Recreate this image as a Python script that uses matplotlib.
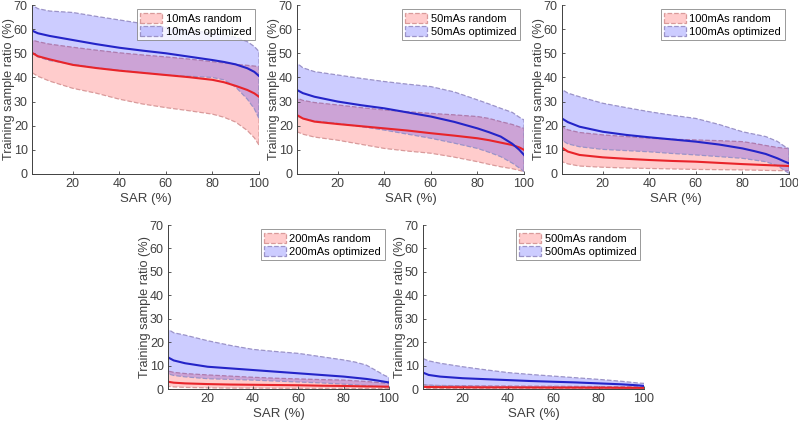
import matplotlib
matplotlib.use("Agg")
import matplotlib.pyplot as plt
from matplotlib.patches import Patch

plt.rcParams['font.family'] = ['Liberation Sans', 'DejaVu Sans']

sar = [2.5, 5, 10, 20, 30, 40, 50, 60, 70, 80, 85, 90, 95, 98, 100]

# 10 mAs
rand_10_mean = [50.2, 48.8, 47.5, 45.2, 43.9, 42.8, 41.9, 41.0, 40.1, 39.0, 38.0, 36.5, 34.8, 33.4, 32.0]
rand_10_up = [55.5, 54.8, 53.8, 52.5, 51.3, 50.2, 49.3, 48.5, 47.6, 46.5, 46.0, 45.4, 45.0, 44.7, 44.5]
rand_10_low = [42.0, 40.5, 38.5, 35.5, 33.5, 31.0, 29.0, 27.5, 26.2, 24.8, 23.5, 21.5, 18.0, 15.0, 12.0]
opt_10_mean = [59.4, 58.3, 57.2, 55.5, 53.8, 52.3, 51.1, 50.0, 48.6, 47.2, 46.4, 45.4, 43.8, 42.3, 40.6]
opt_10_up = [70.0, 68.5, 67.5, 66.9, 65.3, 63.8, 62.3, 60.8, 59.6, 58.3, 57.6, 56.6, 54.8, 52.8, 50.7]
opt_10_low = [50.0, 48.5, 47.0, 45.5, 44.0, 43.0, 42.0, 41.0, 40.5, 40.0, 39.0, 36.0, 31.0, 27.0, 23.0]

# 50 mAs
rand_50_mean = [24.4, 23.0, 21.7, 20.7, 19.8, 18.9, 18.0, 16.9, 15.9, 14.8, 14.0, 13.0, 12.0, 11.0, 10.0]
rand_50_up = [31.4, 30.5, 29.6, 28.6, 27.5, 26.5, 25.8, 25.1, 24.5, 23.8, 23.0, 21.7, 20.5, 19.5, 18.9]
rand_50_low = [17.5, 16.5, 15.3, 14.0, 12.3, 10.6, 9.5, 8.6, 7.0, 5.1, 4.0, 3.0, 2.2, 1.5, 1.0]
opt_50_mean = [34.8, 33.5, 32.0, 30.0, 28.5, 27.2, 25.5, 23.8, 21.6, 18.9, 17.3, 15.5, 12.5, 10.0, 7.9]
opt_50_up = [45.9, 44.0, 42.4, 41.0, 39.6, 38.3, 37.2, 36.2, 34.0, 30.7, 29.0, 27.2, 25.5, 23.5, 22.4]
opt_50_low = [24.0, 23.0, 22.0, 21.0, 19.6, 18.2, 16.5, 14.8, 12.8, 10.6, 9.0, 7.2, 4.5, 2.5, 1.0]

# 100 mAs
rand_100_mean = [10.9, 9.3, 7.9, 6.9, 6.3, 5.8, 5.4, 5.1, 4.6, 4.1, 3.9, 3.7, 3.5, 3.4, 3.3]
rand_100_up = [19.6, 18.3, 17.2, 16.2, 15.5, 14.8, 14.4, 14.1, 13.8, 13.4, 12.7, 11.8, 11.0, 10.7, 10.5]
rand_100_low = [5.1, 4.2, 3.3, 2.8, 2.5, 2.3, 2.1, 1.9, 1.8, 1.7, 1.6, 1.5, 1.4, 1.4, 1.4]
opt_100_mean = [23.0, 21.5, 19.6, 17.5, 16.2, 15.2, 14.3, 13.4, 12.2, 10.6, 9.5, 8.3, 6.5, 5.2, 4.4]
opt_100_up = [35.0, 33.5, 32.0, 29.3, 27.5, 25.8, 24.3, 23.0, 20.5, 17.5, 16.5, 15.5, 13.5, 11.5, 10.5]
opt_100_low = [14.0, 12.5, 11.3, 10.2, 9.7, 9.2, 8.5, 7.9, 7.2, 6.5, 5.8, 5.1, 3.5, 1.5, 0.3]

# 200 mAs
rand_200_mean = [3.1, 2.7, 2.4, 2.1, 1.9, 1.8, 1.7, 1.6, 1.4, 1.3, 1.2, 1.1, 1.05, 1.0, 1.0]
rand_200_up = [7.7, 7.1, 6.6, 6.0, 5.5, 5.0, 4.6, 4.3, 4.0, 3.8, 3.5, 3.2, 2.8, 2.5, 2.4]
rand_200_low = [1.2, 0.9, 0.7, 0.5, 0.4, 0.4, 0.35, 0.3, 0.3, 0.3, 0.25, 0.25, 0.2, 0.2, 0.2]
opt_200_mean = [13.5, 12.2, 11.0, 9.5, 8.8, 8.1, 7.4, 6.7, 6.0, 5.3, 4.8, 4.3, 3.6, 3.1, 2.8]
opt_200_up = [25.5, 24.0, 23.0, 20.6, 18.6, 16.9, 16.0, 15.2, 13.8, 12.4, 11.5, 10.2, 7.5, 5.8, 5.0]
opt_200_low = [6.5, 5.8, 5.2, 4.4, 4.1, 3.8, 3.4, 3.0, 2.6, 2.1, 1.8, 1.5, 1.1, 0.8, 0.7]

# 500 mAs
rand_500_mean = [0.9, 0.85, 0.8, 0.75, 0.7, 0.7, 0.65, 0.6, 0.6, 0.55, 0.55, 0.5, 0.5, 0.5, 0.5]
rand_500_up = [1.8, 1.6, 1.5, 1.4, 1.3, 1.25, 1.2, 1.15, 1.1, 1.05, 1.0, 1.0, 0.95, 0.9, 0.9]
rand_500_low = [0.3, 0.28, 0.26, 0.25, 0.24, 0.23, 0.22, 0.22, 0.21, 0.2, 0.2, 0.2, 0.2, 0.2, 0.2]
opt_500_mean = [7.0, 6.0, 5.3, 4.6, 4.2, 3.8, 3.4, 3.1, 2.8, 2.4, 2.2, 2.0, 1.7, 1.5, 1.3]
opt_500_up = [13.0, 12.0, 11.0, 9.5, 8.2, 7.0, 6.2, 5.5, 4.8, 4.1, 3.7, 3.3, 2.8, 2.5, 2.4]
opt_500_low = [1.8, 1.6, 1.4, 1.2, 1.1, 1.0, 0.9, 0.8, 0.7, 0.6, 0.5, 0.5, 0.4, 0.35, 0.3]

doses = ['10mAs', '50mAs', '100mAs', '200mAs', '500mAs']
panels = [
    (rand_10_mean, rand_10_low, rand_10_up, opt_10_mean, opt_10_low, opt_10_up),
    (rand_50_mean, rand_50_low, rand_50_up, opt_50_mean, opt_50_low, opt_50_up),
    (rand_100_mean, rand_100_low, rand_100_up, opt_100_mean, opt_100_low, opt_100_up),
    (rand_200_mean, rand_200_low, rand_200_up, opt_200_mean, opt_200_low, opt_200_up),
    (rand_500_mean, rand_500_low, rand_500_up, opt_500_mean, opt_500_low, opt_500_up),
]

W, H = 798, 422
# axes boxes in pixels: left, top, right, bottom
boxes = [
    (32, 5, 259, 174),
    (297, 5, 524, 174),
    (562, 5, 789, 174),
    (168, 225, 389, 389),
    (423, 225, 644, 389),
]

red_fill = (1.0, 0.0, 0.0, 0.2)
blue_fill = (0.0, 0.0, 1.0, 0.2)
red_edge = '#d99a9a'
blue_edge = '#9b93c8'
red_line = '#e8242a'
blue_line = '#2424c8'
axis_col = '#404040'

fig = plt.figure(figsize=(W / 100, H / 100), dpi=100)

for dose, data, (l, t, r, b) in zip(doses, panels, boxes):
    ax = fig.add_axes([l / W, 1 - b / H, (r - l) / W, (b - t) / H])
    rm, rl, ru, om, ol, ou = data

    ax.fill_between(sar, rl, ru, facecolor=red_fill, edgecolor=red_edge,
                    linestyle='--', linewidth=0.9)
    ax.fill_between(sar, ol, ou, facecolor=blue_fill, edgecolor=blue_edge,
                    linestyle='--', linewidth=0.9)
    ax.plot(sar, rm, color=red_line, lw=1.5)
    ax.plot(sar, om, color=blue_line, lw=1.5)

    ax.set_xlim(2.5, 100)
    ax.set_ylim(0, 70)
    ax.set_xticks([20, 40, 60, 80, 100])
    ax.set_yticks(range(0, 71, 10))
    ax.tick_params(direction='in', length=2.5, width=0.6, labelsize=9,
                   colors=axis_col, pad=3)
    for side in ['top', 'right']:
        ax.spines[side].set_visible(False)
    for side in ['left', 'bottom']:
        ax.spines[side].set_color(axis_col)
        ax.spines[side].set_linewidth(0.7)

    ax.set_xlabel('SAR (%)', fontsize=9.5, color=axis_col, labelpad=2)
    ax.set_ylabel('Training sample ratio (%)', fontsize=9.2, color=axis_col)
    # right edge of the rotated label sits ~17 px left of the axis
    ax.yaxis.set_label_coords(-17 / (r - l), 0.5)

    handles = [
        Patch(facecolor=red_fill, edgecolor=red_edge, linestyle='--', linewidth=0.9),
        Patch(facecolor=blue_fill, edgecolor=blue_edge, linestyle='--', linewidth=0.9),
    ]
    leg = ax.legend(handles, [dose + ' random', dose + ' optimized'],
                    loc='upper right', fontsize=8, frameon=True, fancybox=False,
                    borderpad=0.3, handlelength=2.0, handleheight=1.1,
                    handletextpad=0.3, labelspacing=0.15, borderaxespad=0.4)
    leg.get_frame().set_edgecolor('#808080')
    leg.get_frame().set_linewidth(0.7)

fig.savefig('out.png', dpi=100)
